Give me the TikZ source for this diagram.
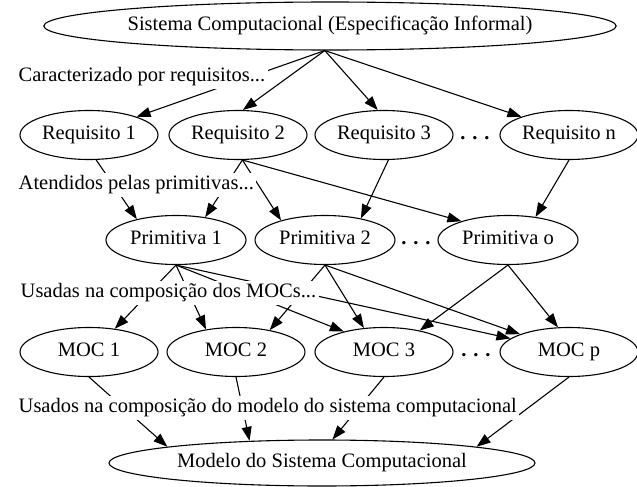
\documentclass[tikz,border=0pt]{standalone}
\usepackage{fontspec}
\setmainfont{Liberation Serif}
\usetikzlibrary{arrows.meta,shapes.geometric}
\begin{document}
\begin{tikzpicture}[x=1pt,y=-1pt,
  every node/.style={font=\fontsize{20.5}{24}\selectfont, text height=14pt, text depth=4.5pt},
  ell/.style={draw, ellipse, line width=1.1pt, inner sep=0pt, minimum width=138pt, minimum height=49pt},
  lab/.style={fill=white, anchor=west, inner sep=2.5pt},
  dotsn/.style={inner sep=0pt, font=\bfseries\fontsize{20.5}{24}\selectfont},
  arr/.style={line width=1.1pt, -{Triangle[length=14pt,width=10pt]}}
]
\useasboundingbox (0,0) rectangle (637,487);

% nodes
\node[ell, minimum width=528pt, minimum height=48pt] (top) at (330,26) {Sistema Computacional (Especificação Informal)};

\node[ell] (r1) at (89,135) {Requisito 1};
\node[ell] (r2) at (238,135) {Requisito 2};
\node[ell] (r3) at (384,135) {Requisito 3};
\node[dotsn] (d1) at (475,135) {.\,\,.\,\,.};
\node[ell] (rn) at (569,135) {Requisito n};

\node[ell, minimum width=140pt] (p1) at (176,240) {Primitiva 1};
\node[ell, minimum width=140pt] (p2) at (325,240) {Primitiva 2};
\node[dotsn] (d2) at (416,240) {.\,\,.\,\,.};
\node[ell, minimum width=140pt] (po) at (508,240) {Primitiva o};

\node[ell] (m1) at (89,352) {MOC 1};
\node[ell] (m2) at (236,352) {MOC 2};
\node[ell] (m3) at (384,352) {MOC 3};
\node[dotsn] (d3) at (476,352) {.\,\,.\,\,.};
\node[ell] (mp) at (569,352) {MOC p};

\node[ell, minimum width=426pt, minimum height=46pt] (model) at (322,463) {Modelo do Sistema Computacional};

% edges
\draw[arr] (top.-102) -- (r1.21);
\draw[arr] (top.-102) -- (r2.79);
\draw[arr] (top.-102) -- (r3.104);
\draw[arr] (top.-102) -- (rn.159);

\draw[arr] (r1.-74) -- (p1.152);
\draw[arr] (r2.-80) -- (p1.38);
\draw[arr] (r2.-80) -- (p2.156);
\draw[arr] (r2.-80) -- (po.158);
\draw[arr] (r3.-80) -- (p2.31);
\draw[arr] (rn.south) -- (po.40);

\draw[arr] (p1.south) -- (m1.42);
\draw[arr] (p1.south) -- (m2.143);
\draw[arr] (p1.south) -- (m3.153);
\draw[arr] (p1.south) -- (mp.167);
\draw[arr] (p2.south) -- (m2.33);
\draw[arr] (p2.south) -- (m3.130);
\draw[arr] (p2.south) -- (mp.160);
\draw[arr] (po.south) -- (m3.31);
\draw[arr] (po.south) -- (mp.114);

\draw[arr] (m1.south) -- (model.174);
\draw[arr] (m2.south) -- (model.163);
\draw[arr] (m3.south) -- (model.66);
\draw[arr] (mp.south) -- (model.6);

% labels
\node[lab] (l1) at (16,77) {Caracterizado por requisitos...};
\node[lab] (l2) at (16,185) {Atendidos pelas primitivas...};
\node[lab] (l3) at (18,293) {Usadas na composição dos MOCs...};
\node[lab] (l4) at (16,408) {Usados na composição do modelo do sistema computacional};
\end{tikzpicture}
\end{document}
